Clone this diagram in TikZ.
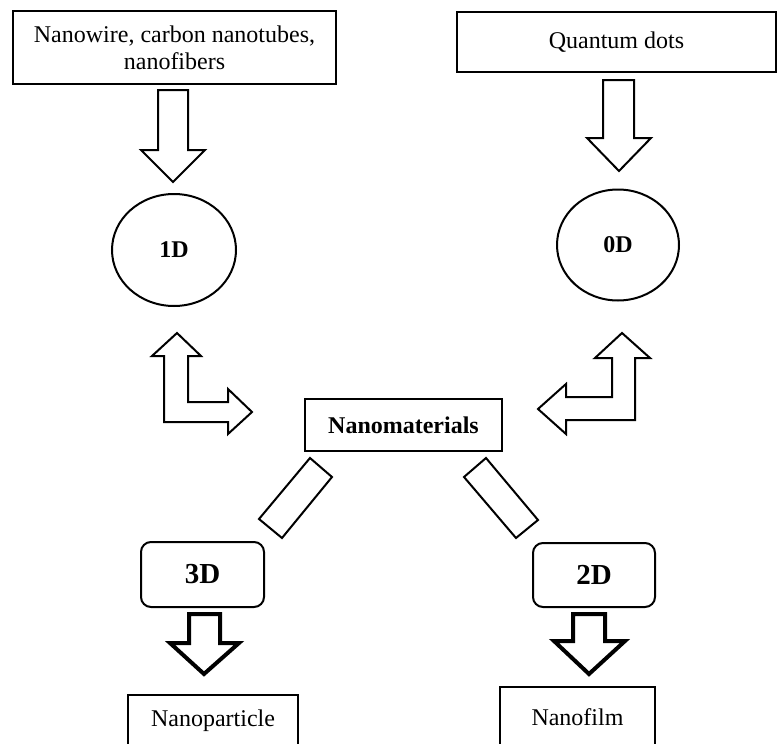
\documentclass[tikz,border=0pt]{standalone}
\usepackage{fontspec}
\setmainfont{Liberation Serif}
\usetikzlibrary{shapes.geometric}

\begin{document}
\begin{tikzpicture}[x=0.5pt,y=-0.5pt,
  txtbox/.style={draw,line width=1pt,inner sep=0pt,align=center,font=\fontsize{12}{13.5}\selectfont},
  dimoval/.style={draw,ellipse,line width=1pt,inner sep=0pt,font=\bfseries\fontsize{12}{14}\selectfont},
  dimbox/.style={draw,rounded corners=5pt,line width=1pt,inner sep=0pt,font=\bfseries\fontsize{14.5}{16}\selectfont},
  hollow/.style={draw,line width=1pt,line join=miter},
  heavy/.style={draw,line width=2pt,line join=miter}]
  \useasboundingbox (0,0) rectangle (778,744); % 図全体の範囲
  \node[txtbox,minimum width=161.5pt,minimum height=36.5pt] (wire) at (174.5,47.5) {Nanowire, carbon nanotubes,\\nanofibers}; % 1次元の例を示す箱
  \node[txtbox,minimum width=159.5pt,minimum height=30pt] (qdots) at (616.5,42) {Quantum dots}; % 0次元の例を示す箱
  \node[dimoval,minimum width=62pt,minimum height=56pt] (oneD) at (174,250) {1D}; % 1Dの楕円
  \node[dimoval,minimum width=61pt,minimum height=55.5pt] (zeroD) at (618,245) {0D}; % 0Dの楕円
  \node[txtbox,font=\bfseries\fontsize{12}{14}\selectfont,minimum width=98.5pt,minimum height=26pt] (nano) at (403.5,425) {Nanomaterials}; % 中央の箱
  \node[dimbox,minimum width=61.5pt,minimum height=32.5pt] (threeD) at (202.5,574.5) {3D}; % 3Dの角丸の箱
  \node[dimbox,minimum width=61pt,minimum height=32pt] (twoD) at (594,575) {2D}; % 2Dの角丸の箱
  \node[txtbox,minimum width=85pt,minimum height=26pt] (particle) at (213,721) {Nanoparticle}; % 3次元の例を示す箱
  \node[txtbox,minimum width=77.5pt,minimum height=30pt] (film) at (577.5,717) {Nanofilm}; % 2次元の例を示す箱
  \draw[hollow] (158,90) -- (188,90) -- (188,150) -- (205,150) -- (173,182) -- (141,150) -- (158,150) -- cycle; % 上左の白抜き下矢印
  \draw[hollow] (603,80) -- (634,80) -- (634,138) -- (651,138) -- (619,171) -- (587,138) -- (603,138) -- cycle; % 上右の白抜き下矢印
  \draw[hollow] (177,333) -- (201,356) -- (188,356) -- (188,402) -- (228,402) -- (228,389) -- (252,412) -- (228,434) -- (228,422) -- (164,422) -- (164,356) -- (152,356) -- cycle; % 左のL字矢印
  \draw[hollow] (622,333) -- (650,358) -- (635,358) -- (635,420) -- (566,420) -- (566,434) -- (538,409) -- (566,384) -- (566,397) -- (612,397) -- (612,358) -- (595,358) -- cycle; % 右のL字矢印
  \draw[hollow] (310,458) -- (332,477) -- (282,538) -- (259,519) -- cycle; % 左下へ伸びる棒
  \draw[hollow] (486,458) -- (538,520) -- (516,538) -- (464,477) -- cycle; % 右下へ伸びる棒
  \draw[heavy] (189,614) -- (220,614) -- (220,643) -- (239,643) -- (204,674) -- (170,643) -- (189,643) -- cycle; % 3Dの下の太い矢印
  \draw[heavy] (573,614) -- (605,614) -- (605,641) -- (625,641) -- (589,674) -- (554,641) -- (573,641) -- cycle; % 2Dの下の太い矢印
\end{tikzpicture}
\end{document}
